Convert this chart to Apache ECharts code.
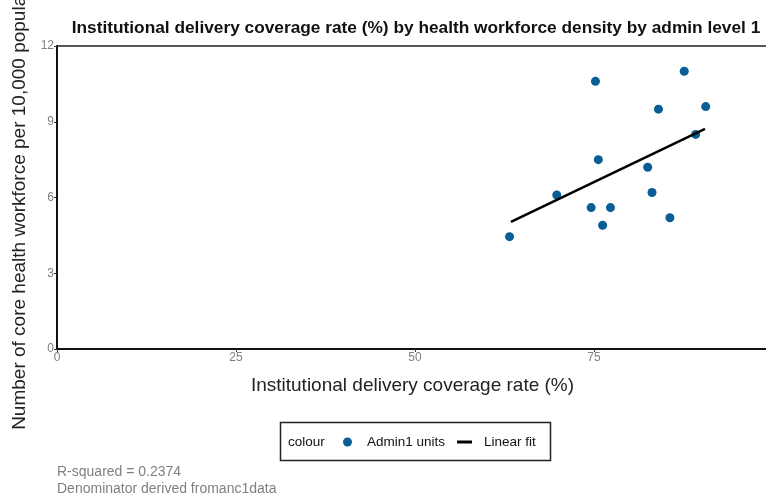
<!DOCTYPE html>
<html>
<head>
<meta charset="utf-8">
<script src="https://cdn.jsdelivr.net/npm/echarts@6/dist/echarts.min.js"></script>
<style>html,body{margin:0;padding:0;background:#fff;}#c{width:766px;height:498px;}</style>
</head>
<body>
<div id="c"></div>
<script>
// Admin1 units: [coverage rate %, workforce per 10,000]
const coverage = [75.2, 87.6, 84.0, 90.6, 89.2, 75.6, 82.5, 69.8, 83.1, 74.6, 77.3, 76.2, 85.6, 63.2];
const workforce = [10.6, 11.0, 9.5, 9.6, 8.5, 7.5, 7.2, 6.1, 6.2, 5.6, 5.6, 4.9, 5.2, 4.45];
// Linear fit endpoints
const fitX = [63.4, 90.5];
const fitY = [5.03, 8.72];
const xTicks = [0, 25, 50, 75];
const yTicks = [0, 3, 6, 9, 12];

const font = 'Liberation Sans, Arial, sans-serif';
const chart = echarts.init(document.getElementById('c'));
chart.setOption({
  backgroundColor: '#fff',
  animation: false,
  title: {
    text: 'Institutional delivery coverage rate (%) by health workforce density by admin level 1',
    left: 411, top: 15, textAlign: 'center',
    textStyle: {fontFamily: font, fontSize: 17.3, fontWeight: 'bold', color: '#111'}
  },
  grid: {left: 57, top: 46, right: -2, bottom: 149, show: true, borderColor: '#222', borderWidth: 1.5,
    containLabel: false, outerBoundsMode: 'none'},
  xAxis: {
    type: 'value', min: 0, max: 99.3, interval: 25,
    name: 'Institutional delivery coverage rate (%)', nameLocation: 'middle', nameGap: 27,
    nameTextStyle: {fontFamily: font, fontSize: 19, color: '#222'},
    axisLine: {show: true, onZero: false, lineStyle: {color: '#111', width: 2}},
    axisTick: {show: true, length: 3, lineStyle: {color: '#333'}},
    axisLabel: {fontFamily: font, fontSize: 12, color: '#808080', margin: 3, showMaxLabel: false,
      formatter: v => (xTicks.indexOf(v) >= 0 ? String(v) : '')},
    splitLine: {show: false}
  },
  yAxis: {
    type: 'value', min: 0, max: 12, interval: 3,
    name: 'Number of core health workforce per 10,000 population', nameLocation: 'middle', nameGap: 28,
    nameTextStyle: {fontFamily: font, fontSize: 19, color: '#222'},
    axisLine: {show: true, onZero: false, lineStyle: {color: '#111', width: 2}},
    axisTick: {show: true, length: 3, lineStyle: {color: '#333'}},
    axisLabel: {fontFamily: font, fontSize: 12, color: '#808080', margin: 3,
      formatter: v => (yTicks.indexOf(v) >= 0 ? String(v) : '')},
    splitLine: {show: false}
  },
  legend: {
    left: 338, top: 430, itemGap: 12, itemWidth: 15, itemHeight: 9,
    textStyle: {fontFamily: font, fontSize: 13.5, color: '#111', padding: [0, 0, 0, 7]},
    data: [
      {name: 'Admin1 units', icon: 'circle'},
      {name: 'Linear fit', icon: 'path://M0,0L15,0L15,3L0,3Z', itemStyle: {color: '#000'}}
    ]
  },
  graphic: [
    {type: 'rect', left: 278, top: 420, shape: {width: 270, height: 38},
     style: {fill: 'none', stroke: '#222', lineWidth: 1.5}},
    {type: 'text', left: 288, top: 435, style: {text: 'colour', font: '13.5px ' + font, fill: '#111'}},
    {type: 'text', left: 57, top: 465, style: {text: 'R-squared = 0.2374', font: '14px ' + font, fill: '#808080'}},
    {type: 'text', left: 57, top: 482, style: {text: 'Denominator derived fromanc1data', font: '14px ' + font, fill: '#808080'}}
  ],
  series: [
    {
      name: 'Admin1 units', type: 'scatter', symbolSize: 9,
      itemStyle: {color: '#0a5e96', opacity: 1},
      data: coverage.map((v, i) => [v, workforce[i]])
    },
    {
      name: 'Linear fit', type: 'line', symbol: 'none',
      lineStyle: {color: '#000', width: 2.5},
      itemStyle: {color: '#000'},
      data: fitX.map((v, i) => [v, fitY[i]])
    }
  ]
});
</script>
</body>
</html>
